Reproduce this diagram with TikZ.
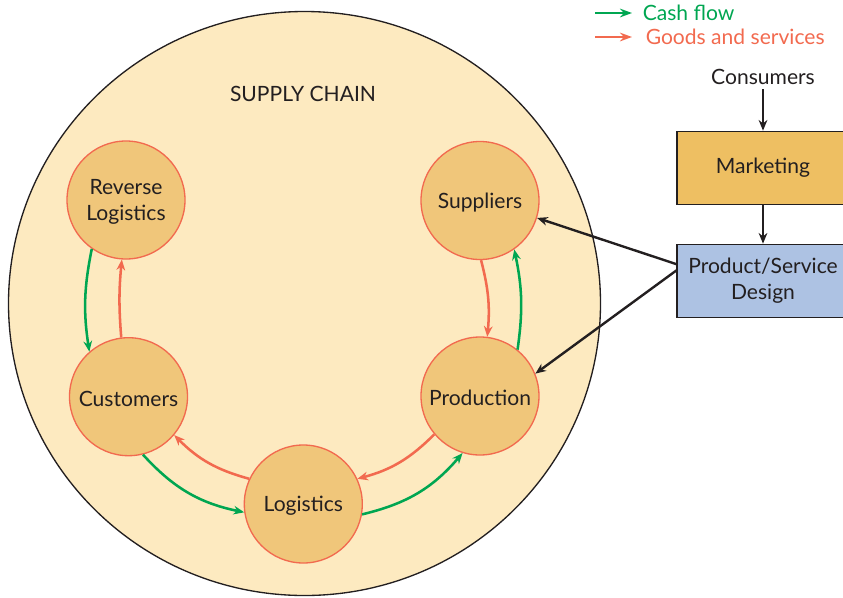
\documentclass[tikz,border=0pt]{standalone}
\usepackage{fontspec}
\setmainfont{Lato}
\usetikzlibrary{arrows.meta,calc}
\definecolor{cream}{HTML}{FDEAC0}
\definecolor{tan}{HTML}{F0C67A}
\definecolor{redo}{HTML}{F26A4F}
\definecolor{gr}{HTML}{00A651}
\definecolor{mk}{HTML}{EEBF62}
\definecolor{bl}{HTML}{ADC2E3}
\definecolor{ink}{HTML}{231F20}
\begin{document}
\begin{tikzpicture}[x=0.75pt,y=-0.75pt,
  font=\fontsize{15.8}{19.3}\selectfont, text=ink,
  stage/.style={circle, draw=redo, line width=1pt, fill=tan, minimum size=88.5pt, inner sep=0pt},
  stagetext/.style={label={[align=center, inner sep=0pt, yshift=-1.5pt]center:#1}},
  box/.style={draw=ink, line width=1pt, minimum width=128.8pt, minimum height=55pt, inner sep=0pt, align=center},
  garr/.style={draw=gr, line width=1.9pt, -{Stealth[length=8pt,width=6.5pt]}},
  rarr/.style={draw=redo, line width=1.9pt, -{Stealth[length=8pt,width=6.5pt]}},
  karr/.style={draw=ink, line width=1.8pt, -{Stealth[length=8pt,width=6.5pt]}},
  legarr/.style={line width=2pt, -{Stealth[length=9pt,width=6.5pt]}}]
\useasboundingbox (0,0) rectangle (843,597);
\begin{scope}
\clip (0,0) rectangle (843,597);
\draw[fill=cream, draw=ink, line width=1pt] (304.5,303.5) ellipse [x radius=296, y radius=292];
\node[box, fill=mk] (mkt) at (763,168) {Marketing};
\node[box, fill=bl] (psd) at (763,281) {Product/Service\\Design};
\end{scope}
\node (sc) at (303,94) {SUPPLY CHAIN};
\node[stage, stagetext={Reverse\\Logistics}] (rev) at (126,200) {};
\node[stage, stagetext={Suppliers}] (sup) at (480,200.5) {};
\node[stage, stagetext={Customers}] (cus) at (128.5,396.7) {};
\node[stage, stagetext={Production}] (pro) at (480,396) {};
\node[stage, stagetext={Logistics}] (log) at (303.3,504) {};
\node (con) at (763,77) {Consumers};
\node[anchor=west, text=gr, inner sep=0pt] (cash) at (642.5,13) {Cash flow};
\node[anchor=west, text=redo, inner sep=0pt] (goods) at (645.5,37) {Goods and services};
\coordinate (cs) at (595,13);
\coordinate (gs) at (595,37);
\draw[legarr, draw=gr] (cs) -- ($(cash.west)+(-10.5,0)$);
\draw[legarr, draw=redo] (gs) -- ($(goods.west)+(-13.5,0)$);
% cycle
\draw[rarr] (sup.-89) to[bend left=10] (pro.83);
\draw[garr] (pro.51) to[bend right=10] (sup.-55);
\draw[garr] (rev.-125) to[bend right=10] (cus.131);
\draw[rarr] (cus.97) to[bend left=5] (rev.-94);
\draw[rarr] (log.155) to[bend left=15] (cus.-40);
\draw[garr] (cus.-76) to[bend right=18] (log.-172);
\draw[rarr] (pro.-140) to[bend left=15] (log.25);
\draw[garr] (log.-10) to[bend right=18] (pro.-107);
% black
\draw[karr] (con.south) -- (mkt.north);
\draw[karr] (mkt.south) -- (psd.north);
\draw[karr] (psd.169.7) -- (sup.-17.7);
\draw[karr] (psd.173.6) -- (pro.22.8);
\end{tikzpicture}
\end{document}
